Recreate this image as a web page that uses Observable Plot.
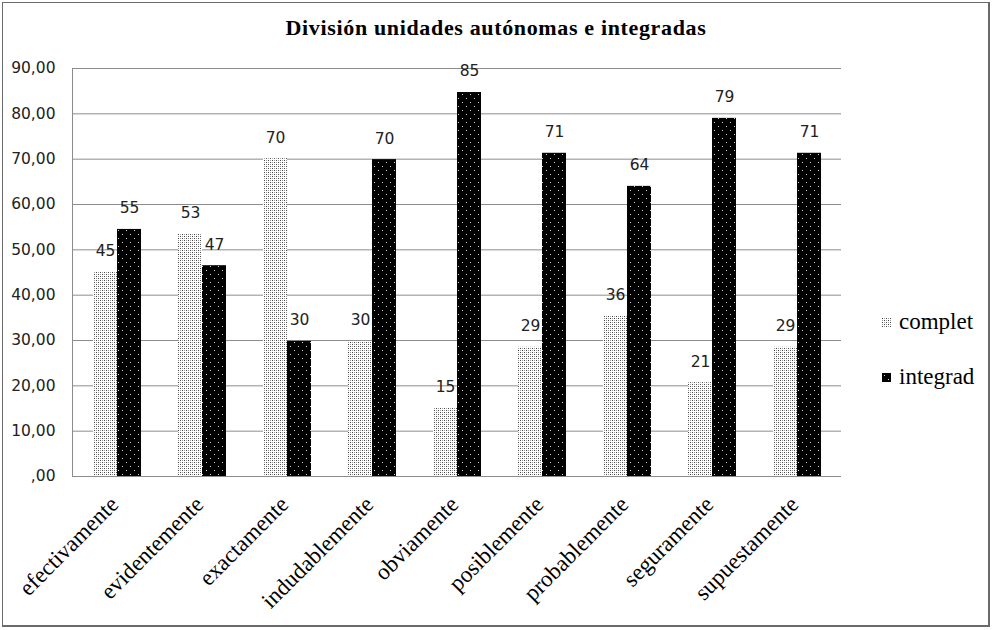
<!DOCTYPE html>
<html>
<head>
<meta charset="utf-8">
<script src="https://cdn.jsdelivr.net/npm/d3@7"></script>
<script src="https://cdn.jsdelivr.net/npm/@observablehq/plot@0.6"></script>
<style>
  html, body { margin: 0; padding: 0; background: #fff; }
  #frame { position: relative; width: 992px; height: 630px; overflow: hidden; }
  #border { position: absolute; left: 2px; top: 2px; width: 985px; height: 622px; border: 2px solid #6a6a6a; border-left-width: 1px; border-top-width: 1px; box-sizing: content-box; }
  #title { position: absolute; left: 0; width: 992px; top: 15px; text-align: center; font-family: "Liberation Serif", serif; font-weight: bold; font-size: 22px; color: #000; letter-spacing: 0.65px; }
  #chart { position: absolute; left: 0; top: 0; }
  .leg { position: absolute; left: 882px; font-family: "Liberation Serif", serif; font-size: 23px; color: #000; display: flex; align-items: center; }
  .leg svg { margin-right: 8px; }
</style>
</head>
<body>
<div id="frame">
  <div id="chart"></div>
  <div id="border"></div>
  <div id="title">División unidades autónomas e integradas</div>
  <div class="leg" style="top:309px"><svg width="9" height="9"><rect width="9" height="9" fill="url(#lpc)"/></svg>complet</div>
  <div class="leg" style="top:364px"><svg width="9" height="9"><rect width="9" height="9" fill="url(#lpi)"/></svg>integrad</div>
</div>
<script>
const categories = ["efectivamente", "evidentemente", "exactamente", "indudablemente", "obviamente", "posiblemente", "probablemente", "seguramente", "supuestamente"];
const seriesNames = ["complet", "integrad"];
const complet = [45.2, 53.4, 70.1, 29.8, 15.0, 28.5, 35.5, 20.7, 28.5];
const integrad = [54.5, 46.5, 29.8, 69.9, 84.7, 71.3, 64.0, 79.0, 71.3];
const yTicks = [0, 10, 20, 30, 40, 50, 60, 70, 80, 90];

const rowsC = categories.map((c, i) => ({cat: c, series: seriesNames[0], value: complet[i]}));
const rowsI = categories.map((c, i) => ({cat: c, series: seriesNames[1], value: integrad[i]}));

const fmtY = d => d === 0 ? ",00" : d.toFixed(2).replace(".", ",");
const labelFont = {fontFamily: "DejaVu Sans", fontSize: 15.5, fill: "#222"};

const plot = Plot.plot({
  width: 992,
  height: 630,
  marginLeft: 72,
  marginRight: 151,
  marginTop: 68,
  marginBottom: 154,
  style: {background: "transparent", overflow: "visible"},
  x: {type: "band", domain: categories, paddingInner: 0.4375, paddingOuter: 0.21875, align: 0.5},
  y: {domain: [0, 90]},
  marks: [
    Plot.ruleY(yTicks, {stroke: "#8c8c8c", strokeWidth: 1}),
    Plot.barY(rowsC, {x: "cat", y: "value", fill: "url(#pc)", insetRight: 24}),
    Plot.barY(rowsI, {x: "cat", y: "value", fill: "url(#pi)", insetLeft: 24}),
    Plot.text(rowsC, {x: "cat", y: "value", text: d => String(Math.round(d.value)), dx: -12, dy: -21, ...labelFont}),
    Plot.text(rowsI, {x: "cat", y: "value", text: d => String(Math.round(d.value)), dx: 12, dy: -21, ...labelFont}),
    Plot.axisY({ticks: yTicks, tickFormat: fmtY, tickSize: 0, tickPadding: 17, label: null, fontFamily: "DejaVu Sans", fontSize: 15.5, fill: "#222"}),
    Plot.axisX({tickRotate: -45, tickSize: 0, tickPadding: 24, dx: -3, label: null, fontFamily: "Liberation Serif", fontSize: 23, fill: "#000"})
  ]
});

// patterns
const ns = "http://www.w3.org/2000/svg";
function addDefs(svg, prefix) {
  const defs = document.createElementNS(ns, "defs");
  defs.innerHTML = `
    <pattern id="${prefix}pc" patternUnits="userSpaceOnUse" width="4" height="4">
      <rect width="4" height="4" fill="#fff"/>
      <rect x="0" y="0" width="1" height="1" fill="#444"/>
      <rect x="2" y="2" width="1" height="1" fill="#444"/>
      <rect x="2" y="0" width="1" height="1" fill="#9a9a9a"/>
      <rect x="0" y="2" width="1" height="1" fill="#9a9a9a"/>
    </pattern>
    <pattern id="${prefix}pi" patternUnits="userSpaceOnUse" width="8" height="8">
      <rect width="8" height="8" fill="#000"/>
      <rect x="2" y="2" width="1" height="1" fill="#d8d8d8"/>
      <rect x="6" y="6" width="1" height="1" fill="#d8d8d8"/>
    </pattern>`;
  svg.insertBefore(defs, svg.firstChild);
}
addDefs(plot, "");

// left vertical axis line, from the scales' ranges
const xr = plot.scale("x").range, yr = plot.scale("y").range;
const vline = document.createElementNS(ns, "line");
vline.setAttribute("x1", xr[0] + 0.5); vline.setAttribute("x2", xr[0] + 0.5);
vline.setAttribute("y1", yr[0]); vline.setAttribute("y2", yr[1]);
vline.setAttribute("stroke", "#8c8c8c");
plot.appendChild(vline);

document.getElementById("chart").appendChild(plot);
document.querySelectorAll(".leg svg").forEach(s => addDefs(s, "l"));
</script>
</body>
</html>
